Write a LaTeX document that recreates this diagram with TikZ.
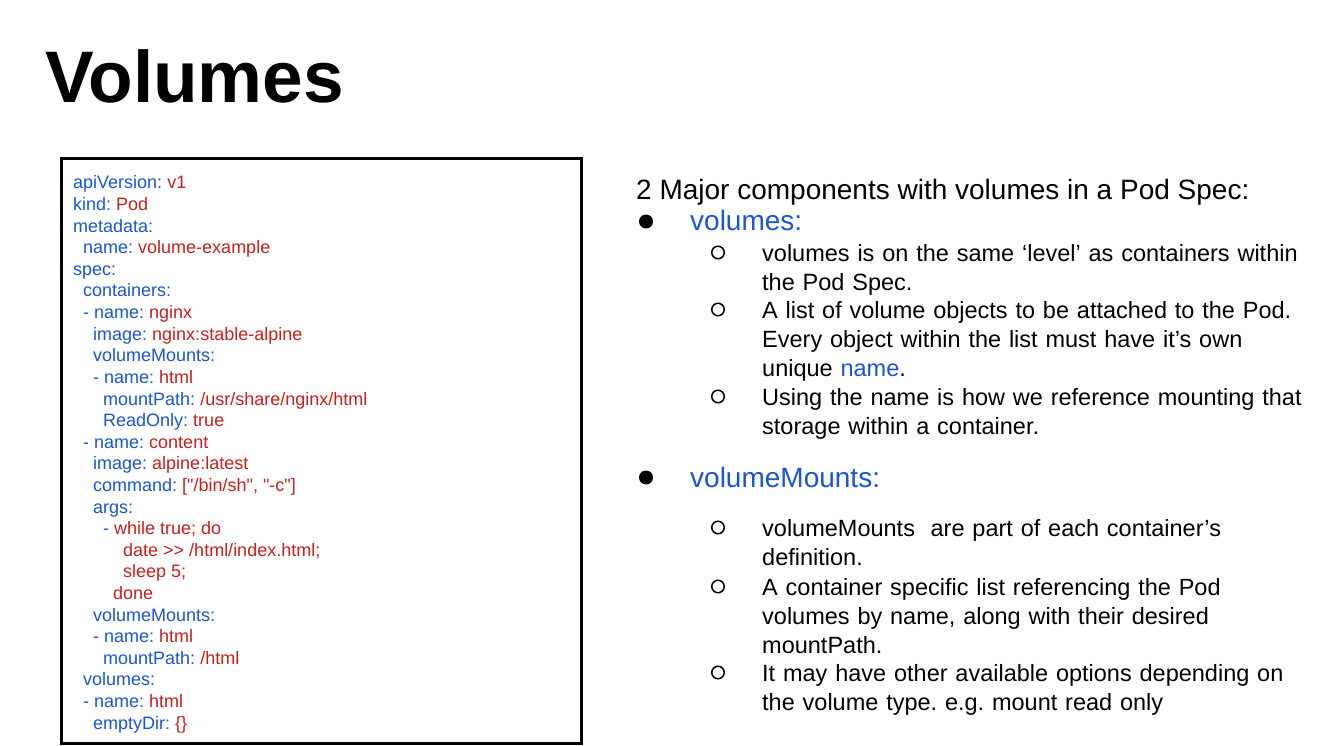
\documentclass[tikz,border=0pt]{standalone}
\usepackage{fontspec}
\setmainfont{Liberation Sans}[Ligatures=TeXOff]
\usetikzlibrary{positioning}
\definecolor{keyblue}{RGB}{28,86,204}
\definecolor{valred}{RGB}{196,32,32}
\newcommand{\kv}[2]{\textcolor{keyblue}{#1}\textcolor{valred}{#2}}
\frenchspacing

\begin{document}
\begin{tikzpicture}
    [x=1pt,y=-1pt,
     code/.style={anchor=base west,inner sep=0pt,font=\fontsize{18}{21.6}\selectfont},
     head/.style={anchor=base west,inner sep=0pt,font=\fontsize{28}{33}\selectfont},
     item/.style={anchor=base west,inner sep=0pt,align=left,text width=560pt,font=\fontsize{23.5}{28.8}\selectfont},
     dot/.style={shape=circle,fill=black,inner sep=0pt,minimum size=14pt},
     ring/.style={shape=circle,draw=black,line width=1.5pt,inner sep=0pt,minimum size=12.5pt}]
    \useasboundingbox [fill=white] (0,0) rectangle (1326,746);
    \node [anchor=base west,inner sep=0pt,font=\fontsize{73}{80}\selectfont\bfseries] (title) at (45,103) {Volumes};
    % yaml listing
    \node [draw=black,line width=3pt,inner sep=0pt,minimum width=520pt,minimum height=584.5pt,anchor=north west] (frame) at (60,157.5) {};
    \node [code] (c1) at (73,189) {\kv{apiVersion: }{v1}};
    \node [code] (c2) at (73,210.6) {\kv{kind: }{Pod}};
    \node [code] (c3) at (73,232.2) {\kv{metadata:}{}};
    \node [code] (c4) at (83,253.8) {\kv{name: }{volume-example}};
    \node [code] (c5) at (73,275.4) {\kv{spec:}{}};
    \node [code] (c6) at (83,297) {\kv{containers:}{}};
    \node [code] (c7) at (83,318.6) {\kv{- name: }{nginx}};
    \node [code] (c8) at (93,340.2) {\kv{image: }{nginx:stable-alpine}};
    \node [code] (c9) at (93,361.8) {\kv{volumeMounts:}{}};
    \node [code] (c10) at (93,383.4) {\kv{- name: }{html}};
    \node [code] (c11) at (103,405) {\kv{mountPath: }{/usr/share/nginx/html}};
    \node [code] (c12) at (103,426.6) {\kv{ReadOnly: }{true}};
    \node [code] (c13) at (83,448.2) {\kv{- name: }{content}};
    \node [code] (c14) at (93,469.8) {\kv{image: }{alpine:latest}};
    \node [code] (c15) at (93,491.4) {\kv{command: }{["/bin/sh", "-c"]}};
    \node [code] (c16) at (93,513) {\kv{args:}{}};
    \node [code] (c17) at (103,534.6) {\kv{- }{while true; do}};
    \node [code] (c18) at (123,556.2) {\kv{}{date >> /html/index.html;}};
    \node [code] (c19) at (123,577.8) {\kv{}{sleep 5;}};
    \node [code] (c20) at (113,599.4) {\kv{}{done}};
    \node [code] (c21) at (93,621) {\kv{volumeMounts:}{}};
    \node [code] (c22) at (93,642.6) {\kv{- name: }{html}};
    \node [code] (c23) at (103,664.2) {\kv{mountPath: }{/html}};
    \node [code] (c24) at (83,685.8) {\kv{volumes:}{}};
    \node [code] (c25) at (83,707.4) {\kv{- name: }{html}};
    \node [code] (c26) at (93,729) {\kv{emptyDir: }{\{\}}};
    % notes on the right
    \node [head] (hdr) at (636,199.5) {2 Major components with volumes in a Pod Spec:};
    \node [dot] (b1) at (646,221.5) {};
    \node [head,text=keyblue] (vols) at (690,231) {volumes:};
    \node [ring] (r1) at (718,252.5) {};
    \node [item] (s1) at (762,261.5) {volumes is on the same ‘level’ as containers within\\the Pod Spec.};
    \node [ring] (r2) at (718,309.5) {};
    \node [item] (s2) at (762,318.5) {A list of volume objects to be attached to the Pod.\\Every object within the list must have it’s own\\unique \textcolor{keyblue}{name}.};
    \node [ring] (r3) at (718,396.5) {};
    \node [item] (s3) at (762,405.5) {Using the name is how we reference mounting that\\storage within a container.};
    \node [dot] (b2) at (646,477.5) {};
    \node [head,text=keyblue] (mounts) at (690,487) {volumeMounts:};
    \node [ring] (r4) at (718,527.5) {};
    \node [item] (s4) at (762,536.5) {volumeMounts\ \ are part of each container’s\\definition.};
    \node [ring] (r5) at (718,586.5) {};
    \node [item] (s5) at (762,595.5) {A container specific list referencing the Pod\\volumes by name, along with their desired\\mountPath.};
    \node [ring] (r6) at (718,672.5) {};
    \node [item] (s6) at (762,681.5) {It may have other available options depending on\\the volume type. e.g. mount read only};
\end{tikzpicture}
\end{document}
